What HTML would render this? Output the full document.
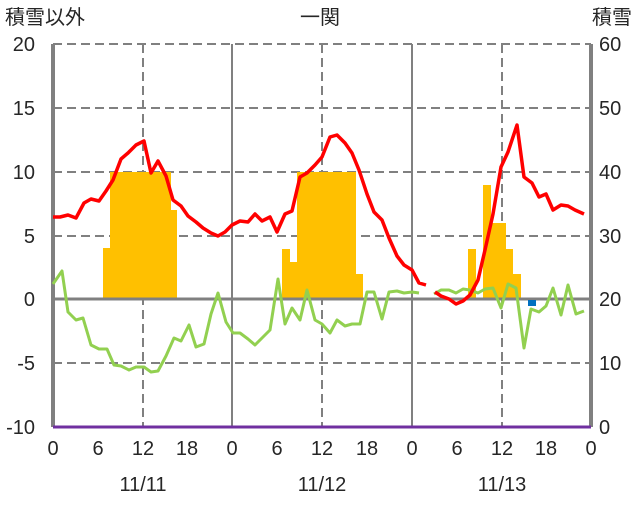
<!DOCTYPE html>
<html><head><meta charset="utf-8"><style>
body{margin:0;background:#fff}
text{font-family:"Liberation Sans","Noto Sans CJK JP",sans-serif;fill:#262626}
</style></head><body>
<svg width="636" height="501" xmlns="http://www.w3.org/2000/svg">
<rect width="636" height="501" fill="#fff"/>
<g stroke="#808080" stroke-width="2" stroke-dasharray="9,5">
<line x1="53" y1="44" x2="591" y2="44"/>
<line x1="53" y1="108" x2="591" y2="108"/>
<line x1="53" y1="172" x2="591" y2="172"/>
<line x1="53" y1="236" x2="591" y2="236"/>
<line x1="53" y1="363" x2="591" y2="363"/>
<line x1="143" y1="44" x2="143" y2="427"/>
<line x1="322" y1="44" x2="322" y2="427"/>
<line x1="502" y1="44" x2="502" y2="427"/>
</g>
<g fill="#ffc000">
<rect x="103" y="248" width="8" height="51"/>
<rect x="110" y="172" width="61" height="127"/>
<rect x="170" y="210" width="7" height="89"/>
<rect x="282" y="249" width="8" height="50"/>
<rect x="289" y="262" width="9" height="37"/>
<rect x="297" y="172" width="59" height="127"/>
<rect x="355" y="274" width="8" height="25"/>
<rect x="468" y="249" width="8" height="50"/>
<rect x="483" y="185" width="8" height="114"/>
<rect x="491" y="223" width="15" height="76"/>
<rect x="506" y="249" width="7" height="50"/>
<rect x="513" y="274" width="8" height="25"/>
</g>
<g stroke="#808080" fill="none">
<line x1="53" y1="299" x2="591" y2="299" stroke-width="3"/>
<line x1="53" y1="44" x2="53" y2="427" stroke-width="4"/>
<line x1="591" y1="44" x2="591" y2="427" stroke-width="4"/>
<line x1="232" y1="44" x2="232" y2="427" stroke-width="2"/>
<line x1="412" y1="44" x2="412" y2="427" stroke-width="2"/>
</g>
<rect x="528" y="300" width="8" height="6" fill="#0070c0"/>
<g fill="none" stroke-width="3" stroke-linejoin="round">
<polyline stroke="#92d050" points="53,284 62,271 68,312 76,320 83,318 91,345 99,349 107,349 114,365 121,366 129,370 136,367 144,367 151,372 158,371 166,356 174,338 181,341 189,325 196,347 204,344 211,314 218,293 226,322 233,333 240,333 248,339 255,345 262,338 270,330 278,279 285,324 292,308 300,320 307,290 315,320 322,324 330,333 337,320 345,326 352,324 360,324 367,292 374,292 382,319 389,292 397,291 404,293 412,292 419,293"/>
<polyline stroke="#92d050" points="434,294 441,290 449,290 456,293 463,289 470,290 478,293 485,289 493,288 501,308 508,284 516,288 524,348 531,309 539,312 546,306 553,288 561,315 568,285 576,314 584,311"/>
<polyline stroke="#ff0000" stroke-width="3.5" points="53,217 60,217 68,215 76,218 84,203 91,199 99,201 106,191 113,180 121,159 128,153 136,145 144,141 151,173 158,161 166,176 173,200 181,206 188,216 196,222 203,228 211,233 218,236 225,232 232,225 240,221 248,222 255,214 262,221 270,217 277,232 285,214 292,211 300,177 307,173 315,165 322,157 330,137 337,135 345,143 352,153 359,170 367,194 374,212 382,220 389,238 397,256 404,265 412,270 419,283 426,285"/>
<polyline stroke="#ff0000" stroke-width="3.5" points="435,292 441,296 449,299 456,304 463,301 470,295 478,280 485,250 493,214 501,167 508,152 517,125 524,177 532,183 539,197 546,194 553,210 561,205 568,206 575,210 584,214"/>
</g>
<line x1="53" y1="427" x2="591" y2="427" stroke="#7030a0" stroke-width="3"/>
<g font-size="20" text-anchor="end">
<text x="35" y="51">20</text><text x="35" y="115">15</text><text x="35" y="179">10</text><text x="35" y="243">5</text><text x="35" y="306">0</text><text x="35" y="370">-5</text><text x="35" y="434">-10</text>
</g>
<g font-size="20" text-anchor="start">
<text x="599" y="51">60</text><text x="599" y="115">50</text><text x="599" y="179">40</text><text x="599" y="243">30</text><text x="599" y="306">20</text><text x="599" y="370">10</text><text x="599" y="434">0</text>
</g>
<g font-size="20" text-anchor="middle">
<text x="53" y="455">0</text><text x="98" y="455">6</text><text x="143" y="455">12</text><text x="187" y="455">18</text>
<text x="232" y="455">0</text><text x="277" y="455">6</text><text x="322" y="455">12</text><text x="367" y="455">18</text>
<text x="412" y="455">0</text><text x="457" y="455">6</text><text x="502" y="455">12</text><text x="546" y="455">18</text><text x="591" y="455">0</text>
<text x="143" y="491">11/11</text><text x="322" y="491">11/12</text><text x="502" y="491">11/13</text>
<text x="320" y="24">一関</text>
</g>
<text x="5" y="24" font-size="20">積雪以外</text>
<text x="632" y="24" font-size="20" text-anchor="end">積雪</text>
</svg>
</body></html>
